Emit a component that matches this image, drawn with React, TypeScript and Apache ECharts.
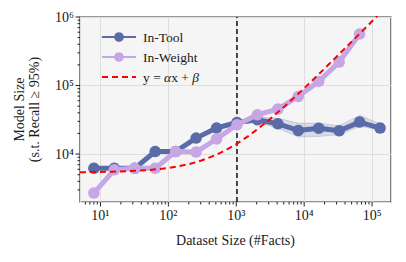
import React, { useEffect, useRef } from "react";
import * as echarts from "echarts";

// ---- Data ----
const datasetSizes = [8, 16, 32, 64, 128, 256, 512, 1024, 2048, 4096, 8192, 16384, 32768, 65536, 131072];
const inToolSizes = [6200, 6200, 6200, 10900, 10900, 17100, 24000, 28900, 31700, 27700, 22100, 23900, 21900, 29300, 24000];
const inWeightX = [8, 16, 32, 64, 128, 256, 512, 1024, 2048, 4096, 8192, 16384, 32768, 65536];
const inWeightSizes = [2700, 5900, 6200, 6200, 10900, 10700, 16600, 26800, 37500, 45400, 69300, 115000, 220000, 565000];

// In-Tool uncertainty band
const bandX = [512, 1024, 2048, 4096, 8192, 16384, 32768, 65536, 131072];
const bandLower = [23500, 27500, 29000, 23900, 17700, 18100, 19100, 25300, 22600];
const bandUpper = [24500, 30500, 34500, 33500, 28300, 28500, 25900, 37000, 27700];

// Fitted curve y = αx + β
const fitX = [5, 10, 20, 50, 100, 200, 300, 500, 700, 1000, 1500, 2000, 3000, 5000, 7000, 10000, 15000, 20000, 30000, 50000, 70000, 100000, 120000];
const fitY = [5440, 5490, 5570, 5830, 6260, 7120, 7980, 9700, 11400, 14000, 18300, 22600, 31200, 48400, 65600, 91400, 134000, 177000, 263000, 435000, 607000, 865000, 1040000];

const thresholdX = 1000;

// Axis ticks
const xMajorTicks = [10, 100, 1000, 10000, 100000];
const yMajorTicks = [10000, 100000, 1000000];
const SUPERSCRIPTS = ["⁰", "¹", "²", "³", "⁴", "⁵", "⁶", "⁷", "⁸", "⁹"];
const X_MIN = 5, X_MAX = 190000, Y_MIN = 2000, Y_MAX = 1000000;
const minorOf = (lo: number, hi: number) => {
  const out: number[] = [];
  for (let d = 1; d <= 1e6; d *= 10) {
    for (let m = 2; m <= 9; m++) {
      const v = m * d;
      if (v > lo * 1.0001 && v < hi * 0.9999) out.push(v);
    }
  }
  return out;
};
const xMinorTicks = minorOf(X_MIN, X_MAX);
const yMinorTicks = minorOf(Y_MIN, Y_MAX);

const BLUE = "#5b6ba8";
const PURPLE = "#c6a6e4";
const FIT_NAME = "y = αx + β";
const FONT = "Liberation Serif";
const TXT = "#1a1a1a";

const supFormatter = (v: number) => {
  const e = Math.round(Math.log10(v));
  return "10" + SUPERSCRIPTS[e];
};

export default function App() {
  const ref = useRef<HTMLDivElement>(null);
  useEffect(() => {
    if (!ref.current) return;
    const chart = echarts.init(ref.current, undefined, { renderer: "svg" });

    const xTickData = [
      ...xMajorTicks.map((v) => [v, 10000, 4.5]),
      ...xMinorTicks.map((v) => [v, 10000, 2.5]),
    ];
    const yTickData = [
      ...yMajorTicks.map((v) => [100, v, 4.5]),
      ...yMinorTicks.map((v) => [100, v, 2.5]),
    ];

    chart.setOption({
      animation: false,
      textStyle: { fontFamily: FONT, fontSize: 13 },
      grid: {
        left: 80, right: 15, top: 17, bottom: 60,
        show: true, backgroundColor: "#f5f5f5", borderColor: "#333", borderWidth: 1.2,
        outerBoundsMode: "none",
      },
      legend: {
        left: 96, top: 25, orient: "vertical",
        itemWidth: 34, itemHeight: 12, itemGap: 6,
        data: [
          { name: "In-Tool" },
          { name: "In-Weight" },
          { name: FIT_NAME, itemStyle: { color: "rgba(0,0,0,0)", borderWidth: 0, opacity: 0 } },
        ],
        formatter: (name: string) => (name === FIT_NAME ? "{n|y = }{i|α}{n|x + }{i|β}" : name),
        textStyle: {
          fontFamily: FONT, fontSize: 13.5, color: TXT, padding: [0, 0, 0, 2],
          rich: {
            n: { fontFamily: FONT, fontSize: 13.5, color: TXT },
            i: { fontFamily: FONT, fontSize: 13.5, color: TXT, fontStyle: "italic" },
          },
        },
        itemStyle: { borderWidth: 0 },
      },
      xAxis: {
        type: "log", min: X_MIN, max: X_MAX, logBase: 10,
        name: "Dataset Size (#Facts)", nameLocation: "middle", nameGap: 31,
        nameTextStyle: { fontFamily: FONT, fontSize: 14, color: TXT },
        axisLine: { show: false },
        axisTick: { show: false },
        axisLabel: {
          showMinLabel: false, showMaxLabel: false, margin: 6,
          fontFamily: FONT, fontSize: 14, color: TXT,
          formatter: supFormatter,
        },
        splitLine: { show: true, lineStyle: { color: "#dedede", width: 1 } },
        minorSplitLine: { show: false },
      },
      yAxis: {
        type: "log", min: Y_MIN, max: Y_MAX, logBase: 10,
        name: "Model Size\n(s.t. Recall ≥ 95%)", nameLocation: "middle", nameGap: 38,
        nameTextStyle: { fontFamily: FONT, fontSize: 14, color: TXT, lineHeight: 15 },
        axisLine: { show: false },
        axisTick: { show: false },
        axisLabel: {
          showMinLabel: false, margin: 6,
          fontFamily: FONT, fontSize: 14, color: TXT,
          formatter: supFormatter,
        },
        splitLine: { show: true, lineStyle: { color: "#dedede", width: 1 } },
      },
      series: [
        {
          type: "custom", name: "xticks", silent: true, z: 10, clip: false,
          data: xTickData,
          renderItem: (params: any, api: any) => {
            const cs = params.coordSys;
            const x = api.coord([api.value(0), api.value(1)])[0];
            const y0 = cs.y + cs.height;
            return {
              type: "line",
              shape: { x1: x, y1: y0, x2: x, y2: y0 + api.value(2) },
              style: { stroke: "#222", lineWidth: 1 },
            };
          },
        },
        {
          type: "custom", name: "yticks", silent: true, z: 10, clip: false,
          data: yTickData,
          renderItem: (params: any, api: any) => {
            const cs = params.coordSys;
            const y = api.coord([api.value(0), api.value(1)])[1];
            const x0 = cs.x;
            return {
              type: "line",
              shape: { x1: x0, y1: y, x2: x0 - api.value(2), y2: y },
              style: { stroke: "#222", lineWidth: 1 },
            };
          },
        },
        {
          type: "custom", name: "band", silent: true, z: 1,
          data: bandX.map((x, i) => [x, bandLower[i], bandUpper[i]]),
          renderItem: (params: any, api: any) => {
            if (params.dataIndex !== 0) return { type: "group", children: [] };
            const upper = bandX.map((x, i) => api.coord([x, bandUpper[i]]));
            const lower = bandX.map((x, i) => api.coord([x, bandLower[i]])).reverse();
            return {
              type: "polygon",
              shape: { points: [...upper, ...lower] },
              style: { fill: "rgba(91,107,168,0.2)", stroke: "rgba(91,107,168,0.25)", lineWidth: 0.8 },
            };
          },
        },
        {
          type: "line", name: "In-Tool", z: 2,
          data: datasetSizes.map((x, i) => [x, inToolSizes[i]]),
          symbol: "circle", symbolSize: 11.5,
          lineStyle: { color: BLUE, width: 5 },
          itemStyle: { color: BLUE },
          markLine: {
            silent: true, symbol: "none", label: { show: false },
            lineStyle: { color: "#111", type: [5, 3], width: 1.5 },
            data: [{ xAxis: thresholdX }],
            z: 1,
          },
        },
        {
          type: "line", name: "In-Weight", z: 3,
          data: inWeightX.map((x, i) => [x, inWeightSizes[i]]),
          symbol: "circle", symbolSize: 11.5,
          lineStyle: { color: PURPLE, width: 5 },
          itemStyle: { color: PURPLE },
        },
        {
          type: "line", name: FIT_NAME, z: 4,
          data: fitX.map((x, i) => [x, fitY[i]]),
          symbol: "none", smooth: false,
          lineStyle: { color: "#ff0000", width: 2, type: [6, 4] },
          itemStyle: { color: "#ff0000" },
        },
      ],
    });
    return () => chart.dispose();
  }, []);
  return <div ref={ref} style={{ width: 406, height: 262, position: "absolute", left: 0, top: 0 }} />;
}
